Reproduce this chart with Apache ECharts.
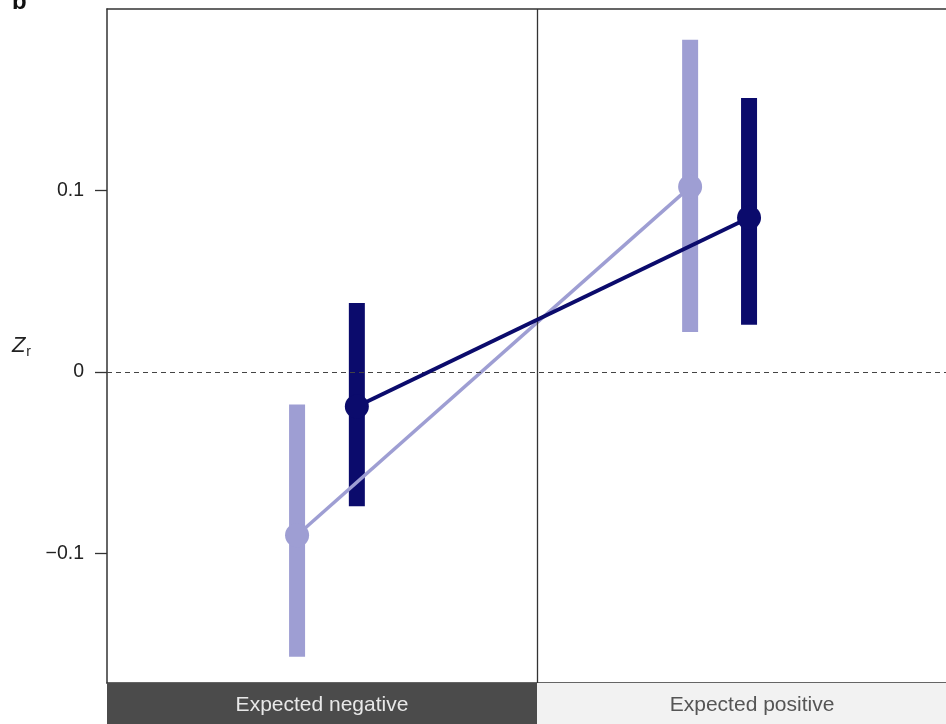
<!DOCTYPE html>
<html>
<head>
<meta charset="utf-8">
<script src="https://cdn.jsdelivr.net/npm/echarts@6/dist/echarts.min.js"></script>
<style>
  html, body { margin: 0; padding: 0; background: #ffffff; }
  #chart { width: 946px; height: 724px; }
</style>
</head>
<body>
<div id="chart"></div>
<script>
// Groups along the bottom strip
const categories = ['Expected negative', 'Expected positive'];

// Position of each estimate along the x scale (0–1 = first group, 1–2 = second)
const lightX = [0.442, 1.356];
const darkX = [0.581, 1.493];

// Effect sizes (Z_r) with confidence limits
const lightMean = [-0.090, 0.102];
const lightLow = [-0.157, 0.022];
const lightHigh = [-0.018, 0.183];

const darkMean = [-0.019, 0.085];
const darkLow = [-0.074, 0.026];
const darkHigh = [0.038, 0.151];

// y tick labels
const yTicks = [-0.1, 0, 0.1];

const LIGHT = '#9e9ed3';
const DARK = '#0b0b6c';
const FONT = '"Liberation Sans", Arial, sans-serif';
const FRAME = '#333';
// the second group's panel runs past the right edge of the page
const X_MAX = 1.951;

function ciData(xs, lo, hi) {
  return xs.map((x, i) => [x, lo[i], hi[i]]);
}
function pointData(xs, ys) {
  return xs.map((x, i) => [x, ys[i]]);
}
function ciRenderer(color) {
  return function (params, api) {
    const x = api.value(0);
    const top = api.coord([x, api.value(2)]);
    const bottom = api.coord([x, api.value(1)]);
    return {
      type: 'rect',
      shape: { x: top[0] - 8, y: top[1], width: 16, height: bottom[1] - top[1] },
      style: { fill: color }
    };
  };
}

// strip cells: one per group, spanning [i, i + 1] on the x scale
const stripFill = ['#4b4b4b', '#f2f2f2'];
const stripText = ['#e8e8e8', '#555555'];
function stripRenderer(params, api) {
  const i = params.dataIndex;
  const a = api.coord([i, 1]);
  const b = api.coord([i + 1, 0]);
  const c = api.coord([i + 0.5, 0.5]);
  return {
    type: 'group',
    children: [
      {
        type: 'rect',
        shape: { x: a[0], y: a[1], width: b[0] - a[0], height: b[1] - a[1] },
        style: { fill: stripFill[i] }
      },
      {
        type: 'text',
        x: c[0], y: c[1] + 2,
        style: {
          text: categories[i], fill: stripText[i],
          fontFamily: FONT, fontSize: 21, align: 'center', verticalAlign: 'middle'
        }
      }
    ]
  };
}

const chart = echarts.init(document.getElementById('chart'), null, { renderer: 'canvas' });

chart.setOption({
  animation: false,
  backgroundColor: '#ffffff',
  grid: [
    { left: 107, right: 0, top: 9, bottom: 41 },
    { left: 107, right: 0, top: 683, height: 41 }
  ],
  xAxis: [
    {
      type: 'value', gridIndex: 0, min: 0, max: X_MAX, position: 'bottom',
      axisLine: { show: true, onZero: false, lineStyle: { color: FRAME, width: 1.5 } },
      axisTick: { show: false }, axisLabel: { show: false }, splitLine: { show: false }
    },
    {
      type: 'value', gridIndex: 0, min: 0, max: X_MAX, position: 'top',
      axisLine: { show: true, onZero: false, lineStyle: { color: FRAME, width: 1.5 } },
      axisTick: { show: false }, axisLabel: { show: false }, splitLine: { show: false }
    },
    {
      type: 'value', gridIndex: 1, min: 0, max: X_MAX, show: false
    }
  ],
  yAxis: [
    {
      type: 'value', gridIndex: 0, min: -0.1714, max: 0.2,
      name: '{z|Z}{r|r}',
      nameLocation: 'middle', nameRotate: 0, nameGap: 76,
      nameTextStyle: {
        rich: {
          z: { fontFamily: FONT, fontStyle: 'italic', fontSize: 22, color: '#222' },
          r: { fontFamily: FONT, fontSize: 14, color: '#222', padding: [12, 0, 0, 1] }
        }
      },
      axisLine: { show: true, onZero: false, lineStyle: { color: FRAME, width: 1.5 } },
      axisTick: { show: true, length: 12, customValues: yTicks, lineStyle: { color: FRAME, width: 1.3 } },
      axisLabel: {
        customValues: yTicks, margin: 23,
        fontFamily: FONT, fontSize: 19.5, color: '#222',
        formatter: v => (Math.abs(v) < 1e-9 ? '0' : (v < 0 ? '\u2212' + Math.abs(v).toFixed(1) : v.toFixed(1)))
      },
      splitLine: { show: false }
    },
    { type: 'value', gridIndex: 1, min: 0, max: 1, show: false }
  ],
  graphic: [
    {
      type: 'text', left: 12, top: -10,
      style: { text: 'b', fontFamily: FONT, fontWeight: 'bold', fontSize: 24, fill: '#111' }
    }
  ],
  series: [
    {
      type: 'custom', xAxisIndex: 2, yAxisIndex: 1, silent: true,
      renderItem: stripRenderer, data: categories.map((c, i) => [i]),
      z: 1
    },
    {
      type: 'line', xAxisIndex: 0, yAxisIndex: 0, data: [], silent: true,
      markLine: {
        silent: true, symbol: 'none', label: { show: false },
        data: [
          { yAxis: 0, lineStyle: { type: [5, 4], color: '#444', width: 1.2 } },
          { xAxis: 1, lineStyle: { type: 'solid', color: FRAME, width: 1.3 } }
        ]
      },
      z: 2
    },
    {
      type: 'custom', xAxisIndex: 0, yAxisIndex: 0,
      renderItem: ciRenderer(LIGHT), data: ciData(lightX, lightLow, lightHigh), z: 3
    },
    {
      type: 'custom', xAxisIndex: 0, yAxisIndex: 0,
      renderItem: ciRenderer(DARK), data: ciData(darkX, darkLow, darkHigh), z: 3
    },
    {
      type: 'line', xAxisIndex: 0, yAxisIndex: 0,
      data: pointData(lightX, lightMean),
      symbol: 'circle', symbolSize: 24,
      lineStyle: { color: LIGHT, width: 3.5 }, itemStyle: { color: LIGHT },
      z: 4
    },
    {
      type: 'line', xAxisIndex: 0, yAxisIndex: 0,
      data: pointData(darkX, darkMean),
      symbol: 'circle', symbolSize: 24,
      lineStyle: { color: DARK, width: 4 }, itemStyle: { color: DARK },
      z: 5
    }
  ]
});
</script>
</body>
</html>
